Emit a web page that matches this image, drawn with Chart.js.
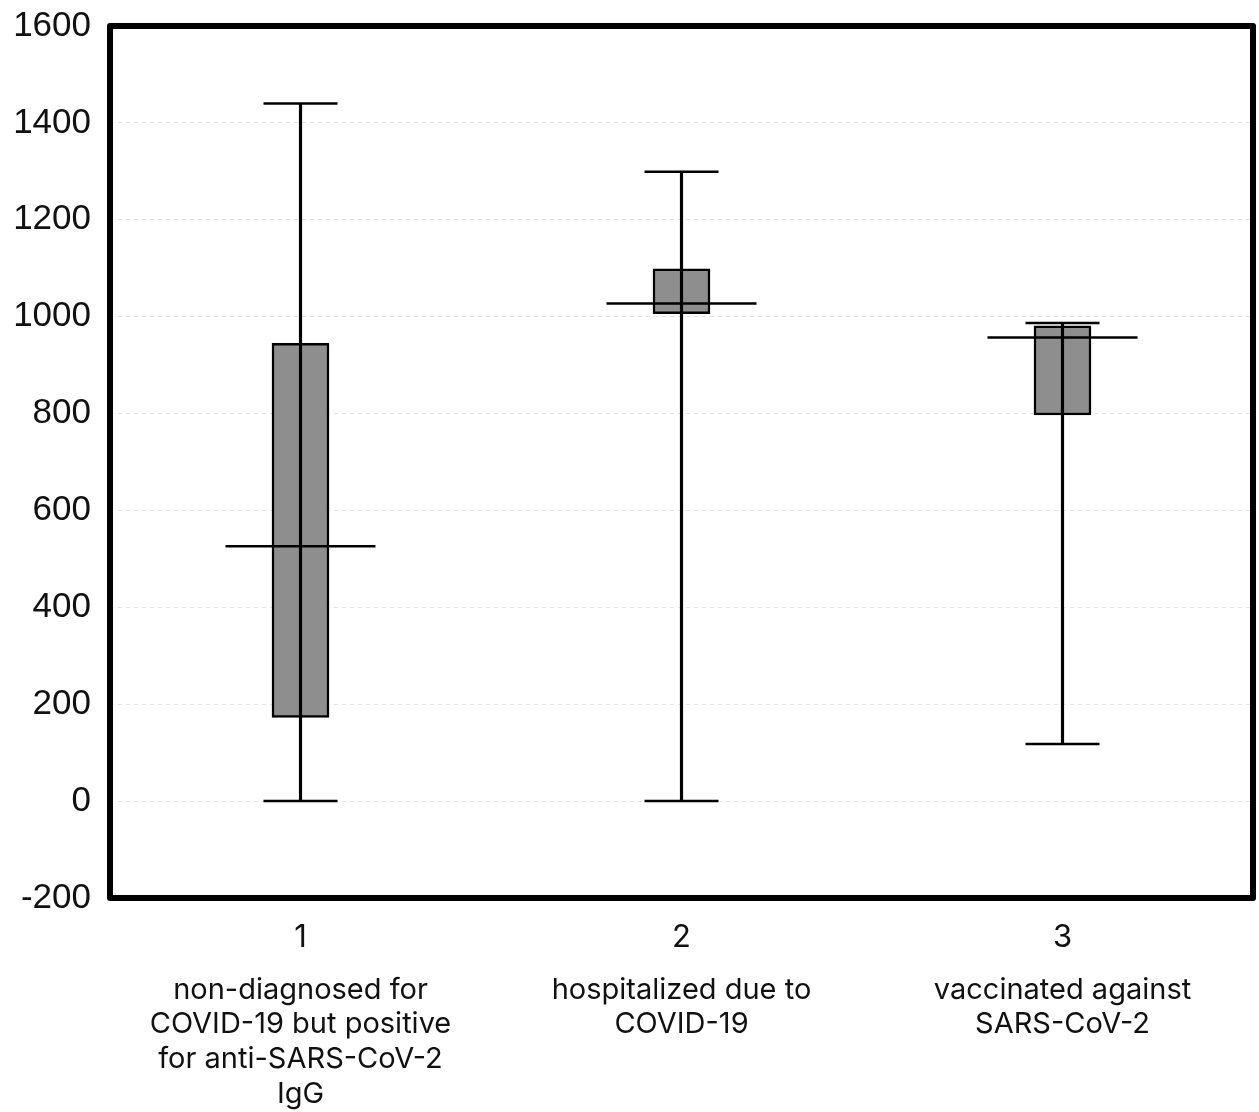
<!DOCTYPE html>
<html>
<head>
<meta charset="utf-8">
<script src="https://cdn.jsdelivr.net/npm/chart.js@4"></script>
<style>
  html, body { margin: 0; padding: 0; background: #fff; }
  #wrap { width: 1259px; height: 1112px; }
</style>
</head>
<body>
<div id="wrap"><canvas id="boxChart" width="1259" height="1112"></canvas></div>
<script>
// groups on the x axis and their descriptions
var groups = ['1', '2', '3'];
var groupNames = [
  ['non-diagnosed for', 'COVID-19 but positive', 'for anti-SARS-CoV-2', 'IgG'],
  ['hospitalized due to', 'COVID-19'],
  ['vaccinated against', 'SARS-CoV-2']
];
// box plot statistics
var minVals    = [0, 0, 118];
var q1Vals     = [173, 1006, 797];
var medianVals = [526, 1027, 957];
var q3Vals     = [945, 1099, 981];
var maxVals    = [1440, 1299, 987];
// y ticks
var yMin = -200, yMax = 1600, yStep = 200;

function pairs(a, b) {
  var out = [];
  for (var i = 0; i < a.length; i++) out.push([a[i], b[i]]);
  return out;
}

// thick frame round the plot area
var framePlugin = {
  id: 'frame',
  afterDraw: function (chart) {
    var a = chart.chartArea, ctx = chart.ctx;
    ctx.save();
    ctx.lineWidth = 6;
    ctx.strokeStyle = '#000';
    ctx.lineJoin = 'round';
    ctx.strokeRect(a.left, a.top, a.right - a.left, a.bottom - a.top);
    ctx.restore();
  }
};

function noPad(scale) {
  scale.paddingLeft = 0;
  scale.paddingRight = 0;
  scale.paddingTop = 0;
  scale.paddingBottom = 0;
}

var ctx = document.getElementById('boxChart').getContext('2d');
var config = {
  type: 'bar',
  data: {
    labels: groups,
    datasets: [
      {
        label: 'box',
        data: pairs(q1Vals, q3Vals),
        backgroundColor: '#8e8e8e',
        borderColor: '#000',
        borderWidth: 2.5,
        borderSkipped: false,
        barThickness: 57,
        grouped: false,
        order: 5
      },
      {
        label: 'whisker',
        data: pairs(minVals, maxVals),
        backgroundColor: '#000',
        borderWidth: 0,
        barThickness: 2.5,
        grouped: false,
        order: 4
      },
      {
        type: 'line',
        label: 'min',
        data: minVals,
        showLine: false,
        pointStyle: 'line',
        pointRadius: 37,
        pointBorderWidth: 2.5,
        pointBorderColor: '#000',
        order: 1
      },
      {
        type: 'line',
        label: 'max',
        data: maxVals,
        showLine: false,
        pointStyle: 'line',
        pointRadius: 37,
        pointBorderWidth: 2.5,
        pointBorderColor: '#000',
        order: 1
      },
      {
        type: 'line',
        label: 'median',
        data: medianVals,
        showLine: false,
        pointStyle: 'line',
        pointRadius: 75,
        pointBorderWidth: 2.5,
        pointBorderColor: '#000',
        order: 1
      }
    ]
  },
  options: {
    responsive: false,
    animation: false,
    events: [],
    layout: { autoPadding: false, padding: { top: 26, right: 6, left: 0, bottom: 0 } },
    plugins: {
      legend: { display: false },
      tooltip: { enabled: false }
    },
    scales: {
      x: {
        type: 'category',
        position: 'bottom',
        offset: true,
        grid: { display: false, drawTicks: false },
        border: { display: false },
        ticks: {
          color: '#111',
          padding: 21,
          font: { family: 'Inter', size: 31 }
        },
        afterFit: function (scale) { scale.height = 68; noPad(scale); }
      },
      x2: {
        type: 'category',
        position: 'bottom',
        offset: true,
        labels: groupNames,
        grid: { display: false, drawTicks: false },
        border: { display: false },
        ticks: {
          color: '#111',
          padding: 7,
          maxRotation: 0,
          autoSkip: false,
          font: { family: 'Inter', size: 29, lineHeight: 1.19 }
        },
        afterFit: function (scale) { scale.height = 146; noPad(scale); }
      },
      y: {
        min: yMin,
        max: yMax,
        grid: {
          color: '#e4e4e4',
          lineWidth: 1,
          drawTicks: false
        },
        border: { display: false, dash: [4, 4] },
        ticks: {
          stepSize: yStep,
          color: '#111',
          padding: 19,
          font: { family: 'Liberation Sans', size: 35 },
          callback: function (v) { return String(v); }
        },
        afterFit: function (scale) { scale.width = 110; noPad(scale); }
      }
    }
  },
  plugins: [framePlugin]
};
window.myBox = new Chart(ctx, config);
</script>
</body>
</html>
